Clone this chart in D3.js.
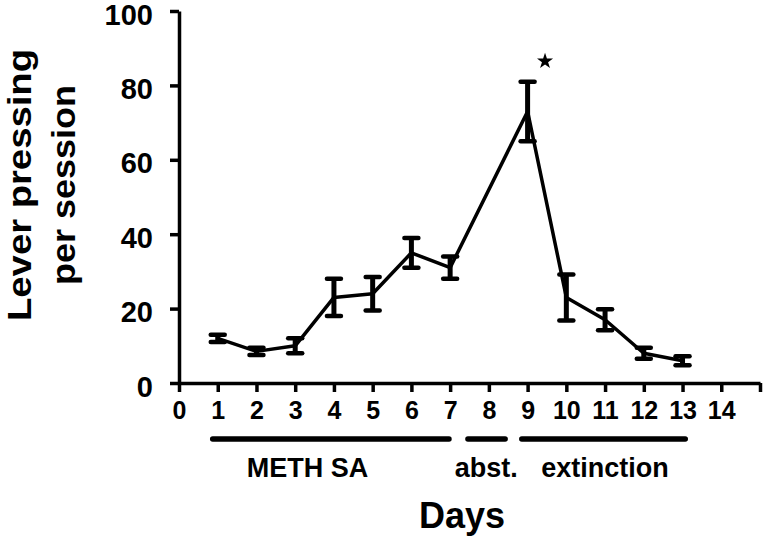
<!DOCTYPE html>
<html>
<head>
<meta charset="utf-8">
<script src="https://cdn.jsdelivr.net/npm/d3@7"></script>
<style>
  body { margin: 0; background: #fff; }
  svg { display: block; font-family: "Liberation Sans", Arial, sans-serif; font-weight: bold; }
  .axis path, .axis line { stroke: #000; stroke-width: 3.5; }
  .axis text { fill: #000; font-weight: bold; }
</style>
</head>
<body>
<div id="chart"></div>
<script>
// 每天的壓桿次數 (第8天沒有資料)
const days = [1, 2, 3, 4, 5, 6, 7, 9, 10, 11, 12, 13];
const means = [12, 8.5, 10, 23, 24, 35, 31, 73, 23, 17, 8, 6];
const sems = [1, 1, 2, 5, 4.5, 4, 3, 8, 6.2, 2.8, 1.5, 1.2];

// 刻度
const xTicks = [0, 1, 2, 3, 4, 5, 6, 7, 8, 9, 10, 11, 12, 13, 14, 15];
const yTicks = [0, 20, 40, 60, 80, 100];

// 階段標示 (起訖以天為單位)
const phaseNames = ["METH SA", "abst.", "extinction"];
const phaseStart = [0.87, 7.46, 8.85];
const phaseEnd = [6.97, 8.42, 13.07];
const phaseMid = [3.32, 7.93, 11.0];

// 顯著標記
const starDay = 9.45;
const starValue = 86.5;

const width = 765, height = 539;
const svg = d3.select('#chart').append('svg')
  .attr('width', width).attr('height', height);

const x = d3.scaleLinear().domain([0, 15]).range([179, 760]);
const y = d3.scaleLinear().domain([0, 100]).range([383, 11]);

const data = days.map((d, i) => ({day: d, mean: means[i], sem: sems[i]}));

// axes
const xAxis = d3.axisBottom(x).tickValues(xTicks)
  .tickFormat(d => d === 15 ? '' : d)
  .tickSizeInner(9).tickSizeOuter(0).tickPadding(6);
const xAxisDraw = svg.append('g').attr('class', 'x axis')
  .attr('transform', `translate(0,${y(0)})`).call(xAxis);
xAxisDraw.selectAll('text').style('font-size', '25px').attr('dy', '0.85em');

const yAxis = d3.axisLeft(y).tickValues(yTicks)
  .tickSizeInner(9).tickSizeOuter(0).tickPadding(17);
const yAxisDraw = svg.append('g').attr('class', 'y axis')
  .attr('transform', `translate(${x(0)},0)`).call(yAxis);
yAxisDraw.selectAll('text').style('font-size', '29px').attr('dy', '0.45em');

// line
const line = d3.line().x(d => x(d.day)).y(d => y(d.mean));
svg.append('path').datum(data)
  .attr('d', line)
  .attr('fill', 'none').attr('stroke', '#000').attr('stroke-width', 3.5)
  .attr('stroke-linejoin', 'round');

// error bars
const capW = 7;
const eb = svg.append('g').selectAll('g').data(data).enter().append('g');
eb.append('line')
  .attr('x1', d => x(d.day)).attr('x2', d => x(d.day))
  .attr('y1', d => y(d.mean - d.sem)).attr('y2', d => y(d.mean + d.sem))
  .attr('stroke', '#000').attr('stroke-width', 5);
eb.append('line')
  .attr('x1', d => x(d.day) - capW).attr('x2', d => x(d.day) + capW)
  .attr('y1', d => y(d.mean + d.sem)).attr('y2', d => y(d.mean + d.sem))
  .attr('stroke', '#000').attr('stroke-width', 4.5).attr('stroke-linecap', 'round');
eb.append('line')
  .attr('x1', d => x(d.day) - capW).attr('x2', d => x(d.day) + capW)
  .attr('y1', d => y(d.mean - d.sem)).attr('y2', d => y(d.mean - d.sem))
  .attr('stroke', '#000').attr('stroke-width', 4.5).attr('stroke-linecap', 'round');

// star
svg.append('path')
  .attr('d', d3.symbol(d3.symbolStar).size(80)())
  .attr('transform', `translate(${x(starDay)},${y(starValue)})`)
  .attr('fill', '#000');

// phase bars & labels
const phases = phaseNames.map((n, i) => ({name: n, s: phaseStart[i], e: phaseEnd[i], m: phaseMid[i]}));
svg.selectAll('.phase-line').data(phases).enter().append('line')
  .attr('class', 'phase-line')
  .attr('x1', d => x(d.s)).attr('x2', d => x(d.e))
  .attr('y1', 439).attr('y2', 439)
  .attr('stroke', '#000').attr('stroke-width', 5.5).attr('stroke-linecap', 'round');
svg.selectAll('.phase-label').data(phases).enter().append('text')
  .attr('class', 'phase-label')
  .attr('x', d => x(d.m)).attr('y', 477)
  .attr('text-anchor', 'middle')
  .style('font-size', '27px')
  .text(d => d.name);

// titles
svg.append('text')
  .attr('x', 462).attr('y', 528)
  .attr('text-anchor', 'middle')
  .style('font-size', '36px')
  .text('Days');

const yTitle = svg.append('text')
  .attr('transform', 'translate(0,185) rotate(-90)')
  .attr('text-anchor', 'middle')
  .style('font-size', '33px');
yTitle.append('tspan').attr('x', 0).attr('y', 31)
  .attr('textLength', 272).attr('lengthAdjust', 'spacingAndGlyphs')
  .text('Lever pressing');
yTitle.append('tspan').attr('x', 0).attr('y', 75)
  .attr('textLength', 200).attr('lengthAdjust', 'spacingAndGlyphs')
  .text('per session');
</script>
</body>
</html>
